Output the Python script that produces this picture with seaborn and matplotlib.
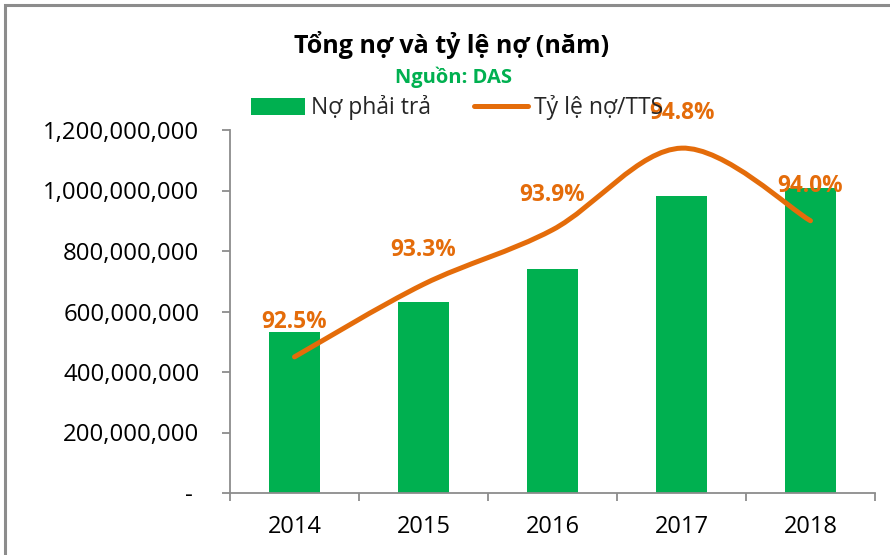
import matplotlib
matplotlib.use("Agg")
import matplotlib.pyplot as plt
import seaborn as sns
import numpy as np
import pandas as pd
from matplotlib.path import Path
from matplotlib.patches import PathPatch, Patch, Rectangle
from matplotlib.lines import Line2D
from matplotlib.ticker import FuncFormatter, FixedLocator

# ---- data ----
years = ["2014", "2015", "2016", "2017", "2018"]
debt = [532_000_000, 631_000_000, 740_000_000, 982_000_000, 1_008_000_000]
ratio = [92.5, 93.3, 93.9, 94.8, 94.0]
ratio_labels = ["92.5%", "93.3%", "93.9%", "94.8%", "94.0%"]
yticks = [0, 200_000_000, 400_000_000, 600_000_000, 800_000_000, 1_000_000_000, 1_200_000_000]

title = "Tổng nợ và tỷ lệ nợ (năm)"
subtitle = "Nguồn: DAS"
legend_bar = "Nợ phải trả"
legend_line = "Tỷ lệ nợ/TTS"

GREEN = "#00B050"
ORANGE = "#E46C0A"
GREY = "#8C8C8C"

sns.set_style("white")
plt.rcParams["font.family"] = ["Open Sans", "DejaVu Sans"]

fig = plt.figure(figsize=(8.9, 5.55), dpi=100)
ax = fig.add_axes([230/890, 1-493/555, (875-230)/890, (493-130)/555])

df = pd.DataFrame({"year": years, "debt": debt})
sns.barplot(data=df, x="year", y="debt", color=GREEN, saturation=1, width=0.4,
            linewidth=0, ax=ax)

ax.set_ylim(0, 1_200_000_000)
ax.set_xlim(-0.5, 4.5)
ax.yaxis.set_major_locator(FixedLocator(yticks))
ax.yaxis.set_major_formatter(FuncFormatter(lambda v, p: "- " if v == 0 else f"{int(v):,}"))
ax.set_xlabel("")
ax.set_ylabel("")
for s in ["top", "right"]:
    ax.spines[s].set_visible(False)
for s in ["left", "bottom"]:
    ax.spines[s].set_color(GREY)
    ax.spines[s].set_linewidth(1.3)
ax.tick_params(axis="y", direction="out", length=6, width=1.3, color=GREY,
               pad=16, labelsize=17.3, labelcolor="black", left=True)
ax.tick_params(axis="x", which="major", length=0, pad=16, labelsize=17, labelcolor="black")
ax.set_xticks(np.arange(-0.5, 5, 1), minor=True)
ax.tick_params(axis="x", which="minor", direction="out", length=6, width=1.3,
               color=GREY, bottom=True)

# secondary axis for ratio
ax2 = ax.twinx()
ax2.set_ylim(91, 95)
ax2.set_yticks([])
for s in ax2.spines.values():
    s.set_visible(False)

# smoothed line (Catmull-Rom -> cubic Bezier control points)
pts = np.column_stack([np.arange(len(ratio)), ratio]).astype(float)
n = len(pts)
verts = [tuple(pts[0])]
codes = [Path.MOVETO]
for i in range(n - 1):
    p0 = pts[max(i - 1, 0)]
    p1 = pts[i]
    p2 = pts[i + 1]
    p3 = pts[min(i + 2, n - 1)]
    c1 = p1 + (p2 - p0) / 6.0
    c2 = p2 - (p3 - p1) / 6.0
    verts += [tuple(c1), tuple(c2), tuple(p2)]
    codes += [Path.CURVE4] * 3
patch = PathPatch(Path(verts, codes), facecolor="none", edgecolor=ORANGE, lw=3.6,
                  capstyle="round", joinstyle="round", transform=ax2.transData)
ax2.add_patch(patch)

for i, (v, lab) in enumerate(zip(ratio, ratio_labels)):
    ax2.annotate(lab, (i, v), xytext=(0, 25), textcoords="offset points",
                 ha="center", va="center", fontsize=16.3, fontweight="bold", color=ORANGE)

# titles
fig.text(452/890, 1-45/555, title, ha="center", va="center", fontsize=18,
         fontweight="bold", color="black")
fig.text(453/890, 1-77/555, subtitle, ha="center", va="center", fontsize=14.5,
         fontweight="bold", color=GREEN)

handles = [Patch(facecolor=GREEN, edgecolor="none"),
           Line2D([0], [0], color=ORANGE, lw=3.6)]
fig.legend(handles, [legend_bar, legend_line], loc="center",
           bbox_to_anchor=(457/890, 1-108/555), ncol=2, frameon=False,
           fontsize=16.5, handlelength=2.35, handletextpad=0.25, columnspacing=1.9,
           borderpad=0, borderaxespad=0)

# outer frame (chart area border)
fig.patches.append(Rectangle((5/890, -1), 2, 1 + (1 - 5/555), fill=False,
                             edgecolor=GREY, lw=2.2, transform=fig.transFigure))

fig.savefig("out.png", dpi=100)
